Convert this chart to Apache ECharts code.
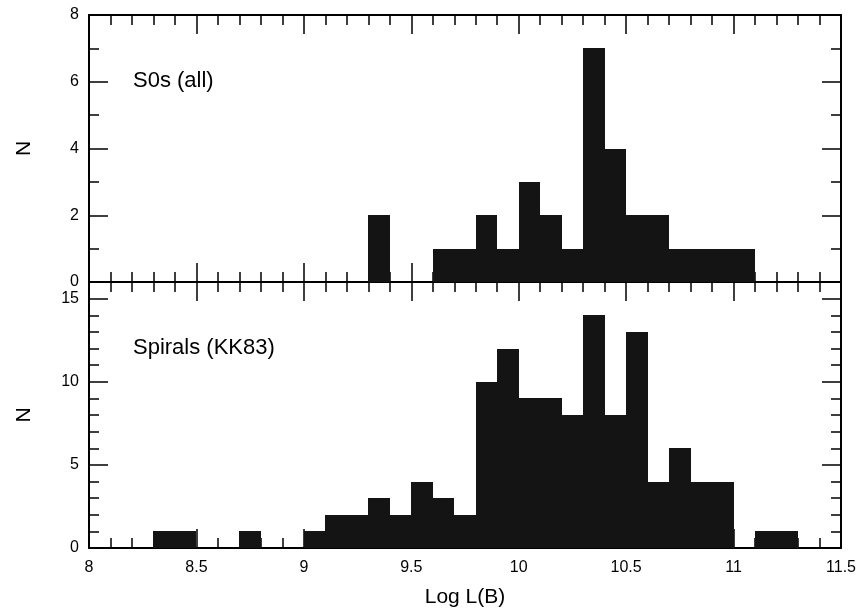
<!DOCTYPE html>
<html>
<head>
<meta charset="utf-8">
<title>Log L(B) histograms</title>
<script src="https://cdn.jsdelivr.net/npm/echarts@6/dist/echarts.min.js"></script>
<style>
  html, body { margin: 0; padding: 0; background: #fff; }
  #chart { width: 859px; height: 609px; }
</style>
</head>
<body>
<div id="chart"></div>
<script>
// histogram bins: lower edge of each non-empty bin, bin width 0.1
var binWidth = 0.1;
var s0Bins   = [9.3, 9.6, 9.7, 9.8, 9.9, 10.0, 10.1, 10.2, 10.3, 10.4, 10.5, 10.6, 10.7, 10.8, 10.9, 11.0];
var s0Counts = [2,   1,   1,   2,   1,   3,    2,    1,    7,    4,    2,    2,    1,    1,    1,    1];
var spBins   = [8.3, 8.4, 8.7, 9.0, 9.1, 9.2, 9.3, 9.4, 9.5, 9.6, 9.7, 9.8, 9.9, 10.0, 10.1, 10.2, 10.3, 10.4, 10.5, 10.6, 10.7, 10.8, 10.9, 11.1, 11.2];
var spCounts = [1,   1,   1,   1,   2,   2,   3,   2,   4,   3,   2,   10,  12,  9,    9,    8,    14,   8,    13,   4,    6,    4,    4,    1,    1];

var xTicks = [8, 8.5, 9, 9.5, 10, 10.5, 11, 11.5];
var panelLabels = ['S0s (all)', 'Spirals (KK83)'];

var font = '"Liberation Sans", Arial, Helvetica, sans-serif';
var ink = '#000';
var barColor = '#141414';

var myChart = echarts.init(document.getElementById('chart'));

function pairs(bins, counts) {
  var out = [];
  for (var i = 0; i < bins.length; i++) out.push([bins[i], counts[i]]);
  return out;
}

// snap to whole pixels so neighbouring bins join without seams
function renderBin(params, api) {
  var x0 = api.value(0), n = api.value(1);
  var p0 = api.coord([x0, n]);
  var p1 = api.coord([x0 + binWidth, 0]);
  var x = Math.round(p0[0]), y = Math.round(p0[1]);
  return {
    type: 'rect',
    shape: { x: x, y: y, width: Math.round(p1[0]) - x, height: Math.round(p1[1]) - y },
    style: { fill: barColor }
  };
}

function xAx(grid, pos, labels) {
  return {
    type: 'value', gridIndex: grid, position: pos,
    min: xTicks[0], max: xTicks[xTicks.length - 1], interval: 0.5,
    axisLine: { show: true, onZero: false, lineStyle: { color: ink, width: 2 } },
    axisTick: { show: true, inside: true, length: 19, lineStyle: { color: ink, width: 1.5 } },
    minorTick: { show: true, splitNumber: 5, length: 10, lineStyle: { color: ink, width: 1.5 } },
    splitLine: { show: false },
    axisLabel: { show: labels, color: ink, fontSize: 16, fontFamily: font, margin: 12 },
    name: labels ? 'Log L(B)' : '',
    nameLocation: 'middle', nameGap: 39,
    nameTextStyle: { color: ink, fontSize: 21, fontFamily: font }
  };
}

function yAx(grid, pos, max, interval, tickLen, opts) {
  opts = opts || {};
  return {
    type: 'value', gridIndex: grid, position: pos,
    min: 0, max: max, interval: interval,
    axisLine: { show: opts.line !== false, onZero: false, lineStyle: { color: ink, width: 2 } },
    axisTick: { show: true, inside: true, length: tickLen, lineStyle: { color: ink, width: 1.5 } },
    minorTick: { show: !!opts.minor, splitNumber: opts.minor || 5, length: 10, lineStyle: { color: ink, width: 1.5 } },
    splitLine: { show: false },
    axisLabel: { show: !!opts.labels, color: ink, fontSize: 16, fontFamily: font, margin: 10, showMaxLabel: opts.maxLabel !== false },
    name: opts.labels ? 'N' : '',
    nameLocation: 'middle', nameGap: 54,
    nameTextStyle: { color: ink, fontSize: 21, fontFamily: font }
  };
}

var option = {
  backgroundColor: '#fff',
  animation: false,
  grid: [
    { left: 89, top: 15, width: 752, height: 267 },
    { left: 89, top: 282, width: 752, height: 267 }
  ],
  xAxis: [
    xAx(0, 'bottom', false),
    xAx(0, 'top', false),
    xAx(1, 'bottom', true),
    xAx(1, 'top', false)
  ],
  yAxis: [
    yAx(0, 'left', 8, 2, 19, { labels: true, minor: 2 }),
    yAx(0, 'right', 8, 2, 19, { minor: 2 }),
    yAx(1, 'left', 16, 5, 19, { labels: true, maxLabel: false }),
    yAx(1, 'left', 16, 1, 10, { line: false }),
    yAx(1, 'right', 16, 5, 19, {}),
    yAx(1, 'right', 16, 1, 10, { line: false })
  ],
  graphic: [
    { type: 'text', left: 133, top: 70, style: { text: panelLabels[0], fill: ink, font: '22px ' + font } },
    { type: 'text', left: 133, top: 337, style: { text: panelLabels[1], fill: ink, font: '22px ' + font } }
  ],
  series: [
    {
      type: 'custom', name: panelLabels[0],
      xAxisIndex: 0, yAxisIndex: 0,
      renderItem: renderBin,
      encode: { x: 0, y: 1 },
      data: pairs(s0Bins, s0Counts)
    },
    {
      type: 'custom', name: panelLabels[1],
      xAxisIndex: 2, yAxisIndex: 2,
      renderItem: renderBin,
      encode: { x: 0, y: 1 },
      data: pairs(spBins, spCounts)
    }
  ]
};

myChart.setOption(option);
window.onresize = myChart.resize;
</script>
</body>
</html>
